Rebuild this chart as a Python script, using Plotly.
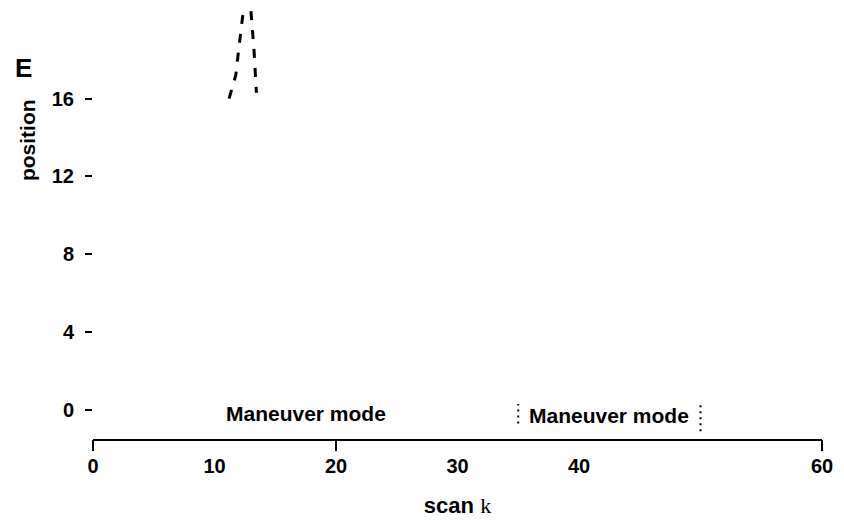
import plotly.graph_objects as go

# Axis ticks
x_tick_vals = [0, 10, 20, 30, 40, 60]
x_tick_text = ["0", "10", "20", "30", "40", "60"]
x_tick_marks = [0, 20, 60]
y_tick_vals = [0, 4, 8, 12, 16]

# Position estimates for the two tracks
track_a_scan = [11.2, 11.75, 11.95, 12.35]
track_a_pos = [16.0, 17.2, 18.3, 20.4]
track_b_scan = [13.0, 13.25, 13.45]
track_b_pos = [20.5, 18.5, 16.3]

# Maneuver mode labels and the bounds of the marked window
maneuver_scan = [17.5, 42.5]
maneuver_pos = [-0.2, -0.3]
window_bounds = [35, 50]
window_low = [-0.7, -1.1]
window_high = [0.3, 0.35]

SANS = "Liberation Sans"

fig = go.Figure()

for xs, ys in [(track_a_scan, track_a_pos), (track_b_scan, track_b_pos)]:
    fig.add_trace(go.Scatter(
        x=xs, y=ys, mode="lines",
        line=dict(color="black", width=3, dash="9px,10px"),
        showlegend=False, hoverinfo="skip",
    ))

for xb, lo, hi in zip(window_bounds, window_low, window_high):
    fig.add_trace(go.Scatter(
        x=[xb, xb], y=[lo, hi], mode="lines", xaxis="x2",
        line=dict(color="black", width=2, dash="2px,4px"),
        showlegend=False, hoverinfo="skip",
    ))

for xm, ym in zip(maneuver_scan, maneuver_pos):
    fig.add_annotation(
        x=xm, y=ym, xref="x", yref="y", text="Maneuver mode",
        showarrow=False, font=dict(family=SANS, size=21, color="black", weight="bold"),
    )

# y-axis label and unit, placed in paper coordinates left of the plot
fig.add_annotation(
    x=-0.0905, y=0.681, xref="paper", yref="paper", text="position", textangle=-90,
    xanchor="center", yanchor="middle",
    showarrow=False, font=dict(family=SANS, size=21, color="black", weight="bold"),
)
fig.add_annotation(
    x=-0.095, y=0.845, xref="paper", yref="paper", text="E",
    xanchor="center", yanchor="middle",
    showarrow=False, font=dict(family=SANS, size=26, color="black", weight="bold"),
)

fig.update_layout(
    width=844, height=525,
    margin=dict(l=93, r=22, t=0, b=86),
    paper_bgcolor="white", plot_bgcolor="white",
    xaxis=dict(
        range=[0, 60], tickmode="array", tickvals=x_tick_vals, ticktext=x_tick_text,
        ticks="", showgrid=False, zeroline=False,
        showline=True, linecolor="black", linewidth=2,
        tickfont=dict(family=SANS, size=20, color="black", weight="bold"),
        ticklabelstandoff=8,
        title=dict(
            text="<b>scan</b> <span style='font-family:Liberation Serif;font-weight:normal'>k</span>",
            font=dict(family=SANS, size=22, color="black"), standoff=22,
        ),
    ),
    xaxis2=dict(
        range=[0, 60], overlaying="x", anchor="y", side="bottom",
        tickmode="array", tickvals=x_tick_marks, ticks="outside",
        ticklen=11, tickwidth=2, tickcolor="black",
        showticklabels=False, showgrid=False, zeroline=False, showline=False,
    ),
    yaxis=dict(
        range=[-1.5, 21.07], tickmode="array", tickvals=y_tick_vals,
        ticks="outside", ticklen=7, tickwidth=2, tickcolor="black",
        showgrid=False, zeroline=False, showline=False,
        ticklabelstandoff=7,
        tickfont=dict(family=SANS, size=20, color="black", weight="bold"),
    ),
)

fig.write_html("out.html")
